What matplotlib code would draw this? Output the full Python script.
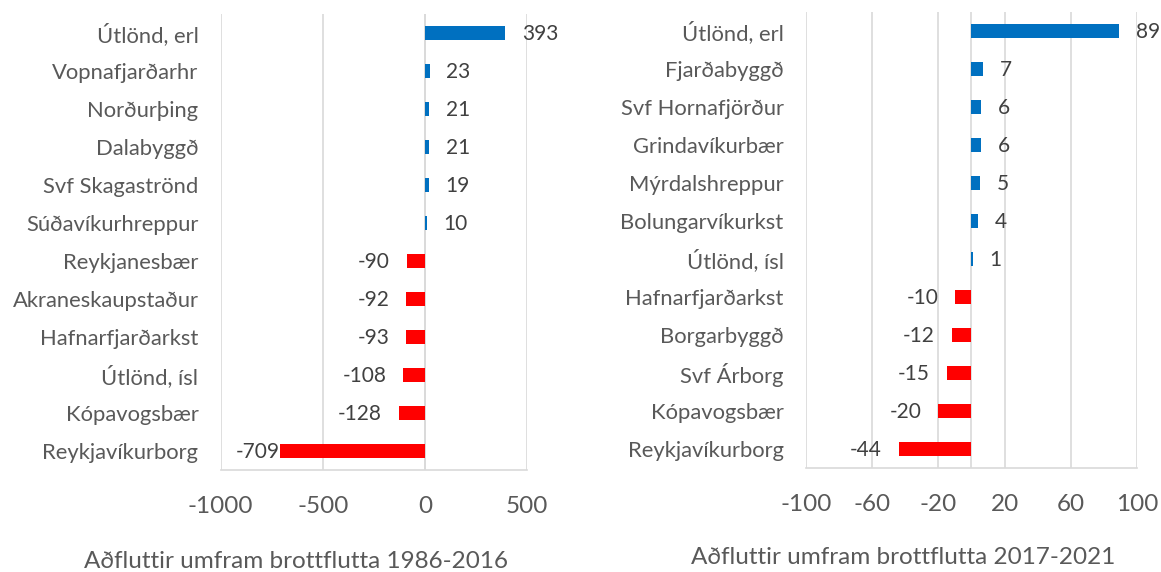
import matplotlib.pyplot as plt

plt.rcParams['font.family'] = ['Lato', 'DejaVu Sans']

left_names = ["Útlönd, erl", "Vopnafjarðarhr", "Norðurþing", "Dalabyggð",
              "Svf Skagaströnd", "Súðavíkurhreppur", "Reykjanesbær",
              "Akraneskaupstaður", "Hafnarfjarðarkst", "Útlönd, ísl",
              "Kópavogsbær", "Reykjavíkurborg"]
left_vals = [393, 23, 21, 21, 19, 10, -90, -92, -93, -108, -128, -709]
left_ticks = [-1000, -500, 0, 500]
left_title = "Aðfluttir umfram brottflutta 1986-2016"

right_names = ["Útlönd, erl", "Fjarðabyggð", "Svf Hornafjörður",
               "Grindavíkurbær", "Mýrdalshreppur", "Bolungarvíkurkst",
               "Útlönd, ísl", "Hafnarfjarðarkst", "Borgarbyggð", "Svf Árborg",
               "Kópavogsbær", "Reykjavíkurborg"]
right_vals = [89, 7, 6, 6, 5, 4, 1, -10, -12, -15, -20, -44]
right_ticks = [-100, -60, -20, 20, 60, 100]
right_title = "Aðfluttir umfram brottflutta 2017-2021"

BLUE = "#0070C0"
RED = "#FF0000"
GRID = "#D9D9D9"
TXT = "#595959"
LBL = "#404040"
FS_CAT = 15.8
FS_TICK = 17.5
FS_LBL = 15
FS_TITLE = 17.5

fig = plt.figure(figsize=(11.61, 5.72), dpi=100)


def panel(rect, names, vals, ticks, xlim):
    ax = fig.add_axes(rect)
    y = list(range(len(names)))
    colors = [BLUE if v > 0 else RED for v in vals]
    ax.barh(y, vals, height=0.35, color=colors, zorder=3)
    ax.set_xlim(*xlim)
    ax.set_ylim(len(names) - 0.5, -0.5)
    ax.set_yticks(y)
    ax.set_yticklabels(names, fontsize=FS_CAT, color=TXT)
    ax.set_xticks(ticks)
    ax.set_xticklabels([str(t) for t in ticks], fontsize=FS_TICK, color=TXT)
    ax.tick_params(axis='both', length=0)
    ax.tick_params(axis='y', pad=16)
    ax.tick_params(axis='x', pad=19)
    for s in ['top', 'right', 'left']:
        ax.spines[s].set_visible(False)
    ax.spines['bottom'].set_color(GRID)
    ax.spines['bottom'].set_linewidth(1.2)
    ax.grid(axis='x', color=GRID, linewidth=1.2, zorder=0)
    ax.axvline(0, color=GRID, linewidth=1.2, zorder=1)
    # data labels
    lo = xlim[0]
    for yi, v in zip(y, vals):
        if v >= 0:
            ax.annotate(str(v), (v, yi), xytext=(12, -1), textcoords='offset points',
                        ha='left', va='center', fontsize=FS_LBL, color=LBL,
                        annotation_clip=False)
        else:
            # keep label inside plot area when bar is long
            off = -12 if (v - lo) > 0.25 * (xlim[1] - lo) else 0
            ax.annotate(str(v), (v, yi), xytext=(off, -1), textcoords='offset points',
                        ha='right', va='center', fontsize=FS_LBL, color=LBL,
                        annotation_clip=False)
    return ax


panel([0.1901, 0.1783, 0.2638, 0.7972], left_names, left_vals, left_ticks, (-1000, 500))
panel([0.6940, 0.1818, 0.2854, 0.7972], right_names, right_vals, right_ticks, (-100, 100))

fig.text(296 / 1161, 1 - 562 / 572, left_title, ha='center', va='center',
         fontsize=FS_TITLE, color=TXT)
fig.text(903 / 1161, 1 - 558 / 572, right_title, ha='center', va='center',
         fontsize=FS_TITLE, color=TXT)

fig.savefig("out.png", dpi=100)
